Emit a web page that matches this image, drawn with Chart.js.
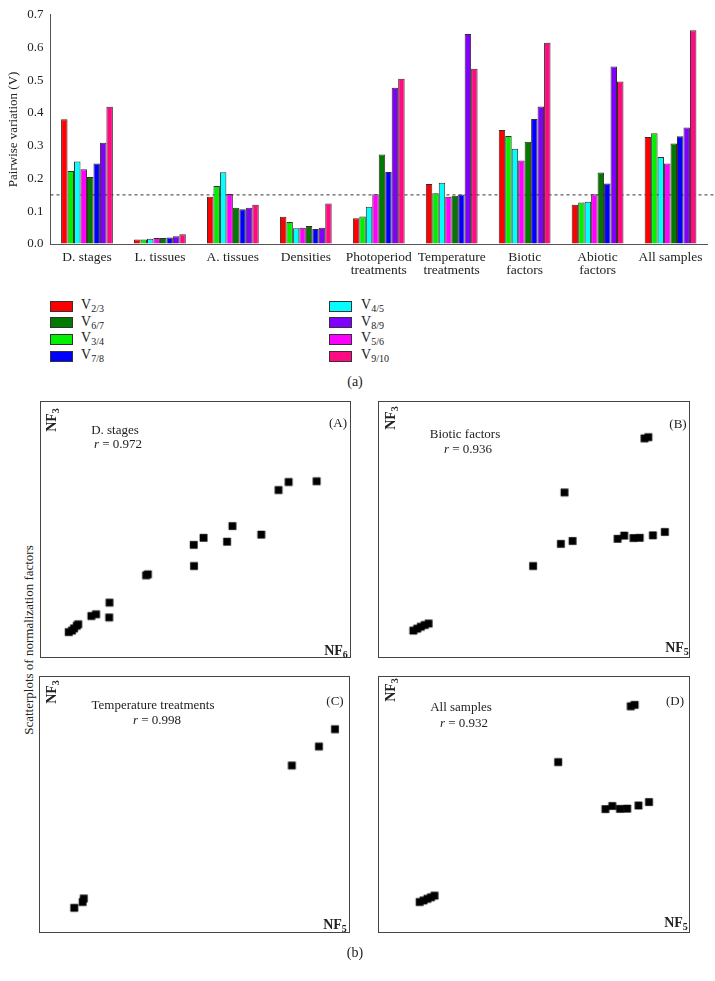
<!DOCTYPE html>
<html>
<head>
<meta charset="utf-8">
<script src="https://cdn.jsdelivr.net/npm/chart.js@4.4.1/dist/chart.umd.min.js"></script>
<style>
  body { margin: 0; background: #fff; }
  #page { position: relative; width: 715px; height: 981px; background: #fff; overflow: hidden;
          font-family: "Liberation Serif", "Times New Roman", serif; color: #222; }
  .txt { position: absolute; white-space: nowrap; transform: translate(-50%, -50%); font-size: 13px; line-height: 1; }
  .rot { transform: translate(-50%, -50%) rotate(-90deg); }
  .nf { font-weight: bold; font-size: 14px; }
  .nf sub, .leg sub { font-size: 10px; vertical-align: -3px; line-height: 0; }
  .box { position: absolute; width: 21px; height: 9px; border: 1px solid #333; }
  .leg { position: absolute; font-size: 14px; line-height: 1; transform: translateY(-50%); white-space: nowrap; }
  canvas.panel { position: absolute; border: 1px solid #444; }
</style>
</head>
<body>
<div id="page">
  <canvas id="bars" width="715" height="290" style="position:absolute;left:0;top:0"></canvas>
  <canvas id="pA" class="panel" width="311" height="257" style="left:40px;top:401px"></canvas>
  <canvas id="pB" class="panel" width="312" height="257" style="left:378px;top:401px"></canvas>
  <canvas id="pC" class="panel" width="311" height="257" style="left:39px;top:676px"></canvas>
  <canvas id="pD" class="panel" width="312" height="257" style="left:378px;top:676px"></canvas>
</div>
<script>
// ---- (a) pairwise variation ----
var categories = [['D. stages'], ['L. tissues'], ['A. tissues'], ['Densities'],
    ['Photoperiod', 'treatments'], ['Temperature', 'treatments'],
    ['Biotic', 'factors'], ['Abiotic', 'factors'], ['All samples']];

var pairNames = ['2/3', '3/4', '4/5', '5/6', '6/7', '7/8', '8/9', '9/10'];
var pairColors = ['#ff0000', '#00f000', '#00ffff', '#ff00ff', '#007a00', '#0000ff', '#8000ff', '#ff0a80'];

var v23 = [0.381, 0.014, 0.144, 0.083, 0.079, 0.183, 0.348, 0.120, 0.327];
var v34 = [0.223, 0.014, 0.177, 0.067, 0.084, 0.155, 0.330, 0.127, 0.338];
var v45 = [0.252, 0.016, 0.219, 0.048, 0.114, 0.187, 0.291, 0.129, 0.266];
var v56 = [0.228, 0.018, 0.153, 0.050, 0.152, 0.144, 0.255, 0.152, 0.246];
var v67 = [0.205, 0.018, 0.111, 0.055, 0.273, 0.147, 0.312, 0.218, 0.307];
var v78 = [0.246, 0.020, 0.106, 0.046, 0.220, 0.151, 0.382, 0.185, 0.329];
var v89 = [0.309, 0.024, 0.111, 0.050, 0.477, 0.641, 0.420, 0.542, 0.356];
var v910 = [0.419, 0.030, 0.120, 0.124, 0.505, 0.535, 0.615, 0.496, 0.653];
var cutoff = 0.15;

var yTicks = [0, 0.1, 0.2, 0.3, 0.4, 0.5, 0.6, 0.7];

// legend layout: left column then right column, as in the figure
var legendLeft = [0, 4, 1, 5];
var legendRight = [2, 6, 3, 7];

// ---- (b) scatterplots of normalization factors (relative units, 0-100) ----
var dStagesNF6 = [7.4, 8.5, 9.2, 10.1, 10.6, 15.0, 16.6, 21.1, 21.0, 33.4, 34.0, 49.4, 52.7, 49.5, 60.6, 62.4, 72.1, 77.9, 81.3, 90.7];
var dStagesNF3 = [7.9, 8.5, 9.4, 10.5, 11.1, 14.5, 15.2, 20.0, 13.9, 31.2, 31.6, 43.7, 46.6, 35.0, 45.0, 51.4, 47.9, 66.2, 69.5, 69.8];

var bioticNF5 = [9.6, 10.9, 12.1, 13.4, 14.7, 49.7, 59.0, 62.9, 60.2, 78.0, 80.2, 83.3, 85.4, 89.8, 93.8, 87.0, 88.3];
var bioticNF3 = [8.5, 9.3, 10.1, 10.8, 11.4, 35.0, 44.1, 45.3, 65.2, 46.2, 47.5, 46.5, 46.6, 47.6, 49.0, 87.4, 87.9];

var tempNF5 = [9.6, 12.4, 12.8, 82.7, 91.8, 97.2];
var tempNF3 = [7.6, 10.0, 11.4, 66.0, 73.8, 80.9];

var allNF5 = [11.7, 13.0, 14.3, 15.5, 16.7, 58.1, 73.9, 76.2, 78.8, 81.2, 85.0, 88.5, 82.4, 83.7];
var allNF3 = [10.0, 10.6, 11.3, 11.9, 12.6, 67.4, 48.1, 49.4, 48.2, 48.3, 49.6, 51.0, 90.3, 90.9];

var serif = '"Liberation Serif", "Times New Roman", serif';
var page = document.getElementById('page');

function addText(html, cx, cy, cls) {
    var d = document.createElement('div');
    d.className = 'txt' + (cls ? ' ' + cls : '');
    d.innerHTML = html;
    d.style.left = cx + 'px';
    d.style.top = cy + 'px';
    page.appendChild(d);
    return d;
}

// dashed cutoff line, drawn behind the bars
var cutoffLine = {
    id: 'cutoffLine',
    beforeDatasetsDraw: function(chart) {
        var ctx = chart.ctx;
        var y = chart.scales.y.getPixelForValue(cutoff);
        ctx.save();
        ctx.setLineDash([3, 3]);
        ctx.strokeStyle = '#333';
        ctx.lineWidth = 1;
        ctx.beginPath();
        ctx.moveTo(chart.chartArea.left, y);
        ctx.lineTo(chart.width, y);
        ctx.stroke();
        ctx.restore();
    }
};

var series = [v23, v34, v45, v56, v67, v78, v89, v910];
var barSets = series.map(function(vals, i) {
    return {
        label: 'V' + pairNames[i],
        data: vals,
        backgroundColor: pairColors[i],
        borderColor: '#3a2a2a',
        borderWidth: 1,
        categoryPercentage: 0.71,
        barPercentage: 1.0
    };
});

new Chart(document.getElementById('bars').getContext('2d'), {
    type: 'bar',
    data: { labels: categories, datasets: barSets },
    options: {
        responsive: false,
        animation: false,
        layout: { padding: { top: 11, right: 8, left: 0, bottom: 0 } },
        plugins: { legend: { display: false }, tooltip: { enabled: false } },
        scales: {
            x: {
                grid: { display: true, drawOnChartArea: false, drawTicks: false },
                border: { display: true, color: '#555', width: 1 },
                ticks: { color: '#222', padding: 7, maxRotation: 0, autoSkip: false,
                         font: { family: serif, size: 13.5, lineHeight: 0.97 } },
                afterFit: function(s) { s.height = 46; }
            },
            y: {
                min: 0, max: 0.7,
                afterBuildTicks: function(s) { s.ticks = yTicks.map(function(v) { return { value: v }; }); },
                grid: { display: true, drawOnChartArea: false, drawTicks: false },
                border: { display: true, color: '#555', width: 1 },
                ticks: { color: '#222', padding: 7, font: { family: serif, size: 13 },
                         callback: function(v) { return Number(v).toFixed(1); } },
                title: { display: true, text: 'Pairwise variation (V)', color: '#222',
                         font: { family: serif, size: 13 }, padding: { top: 6, bottom: 0 } },
                afterFit: function(s) { s.width = 50.5; }
            }
        }
    },
    plugins: [cutoffLine]
});

// legend (HTML, for the subscripts)
function legendColumn(idx, boxLeft, textLeft) {
    var rows = [306, 322.7, 339.3, 356];
    idx.forEach(function(k, r) {
        var b = document.createElement('div');
        b.className = 'box';
        b.style.left = boxLeft + 'px';
        b.style.top = (rows[r] - 5.5) + 'px';
        b.style.background = pairColors[k];
        page.appendChild(b);
        var t = document.createElement('div');
        t.className = 'leg';
        t.innerHTML = 'V<sub>' + pairNames[k] + '</sub>';
        t.style.left = textLeft + 'px';
        t.style.top = (rows[r] - 1) + 'px';
        page.appendChild(t);
    });
}
legendColumn(legendLeft, 50, 81);
legendColumn(legendRight, 329, 361);
addText('(a)', 355, 382, '').style.fontSize = '14px';

// scatter panels
function makePanel(id, xs, ys) {
    var pts = xs.map(function(x, i) { return { x: x, y: ys[i] }; });
    new Chart(document.getElementById(id).getContext('2d'), {
        type: 'scatter',
        data: { datasets: [{
            data: pts,
            pointStyle: 'rect',
            pointRadius: 5.2,
            backgroundColor: '#000',
            borderColor: '#000',
            borderWidth: 0.5,
            clip: false
        }] },
        options: {
            responsive: false,
            animation: false,
            layout: { padding: 0 },
            plugins: { legend: { display: false }, tooltip: { enabled: false } },
            scales: {
                x: { type: 'linear', min: 0, max: 100, display: false },
                y: { type: 'linear', min: 0, max: 100, display: false }
            }
        }
    });
}
makePanel('pA', dStagesNF6, dStagesNF3);
makePanel('pB', bioticNF5, bioticNF3);
makePanel('pC', tempNF5, tempNF3);
makePanel('pD', allNF5, allNF3);

// panel annotations
addText('NF<sub>3</sub>', 52, 420, 'nf rot');
addText('NF<sub>3</sub>', 391, 418, 'nf rot');
addText('NF<sub>3</sub>', 52, 692, 'nf rot');
addText('NF<sub>3</sub>', 391, 690, 'nf rot');
addText('NF<sub>6</sub>', 336, 651, 'nf');
addText('NF<sub>5</sub>', 677, 648, 'nf');
addText('NF<sub>5</sub>', 335, 925, 'nf');
addText('NF<sub>5</sub>', 676, 923, 'nf');
addText('(A)', 338, 422);
addText('(B)', 678, 423);
addText('(C)', 335, 700);
addText('(D)', 675, 700);
addText('D. stages', 115, 429);
addText('<i>r</i> = 0.972', 118, 443);
addText('Biotic factors', 465, 433);
addText('<i>r</i> = 0.936', 468, 448);
addText('Temperature treatments', 153, 704);
addText('<i>r</i> = 0.998', 157, 719);
addText('All samples', 461, 706);
addText('<i>r</i> = 0.932', 464, 722);
addText('Scatterplots of normalization factors', 28, 640, 'rot');
addText('(b)', 355, 953).style.fontSize = '14px';
</script>
</body>
</html>
